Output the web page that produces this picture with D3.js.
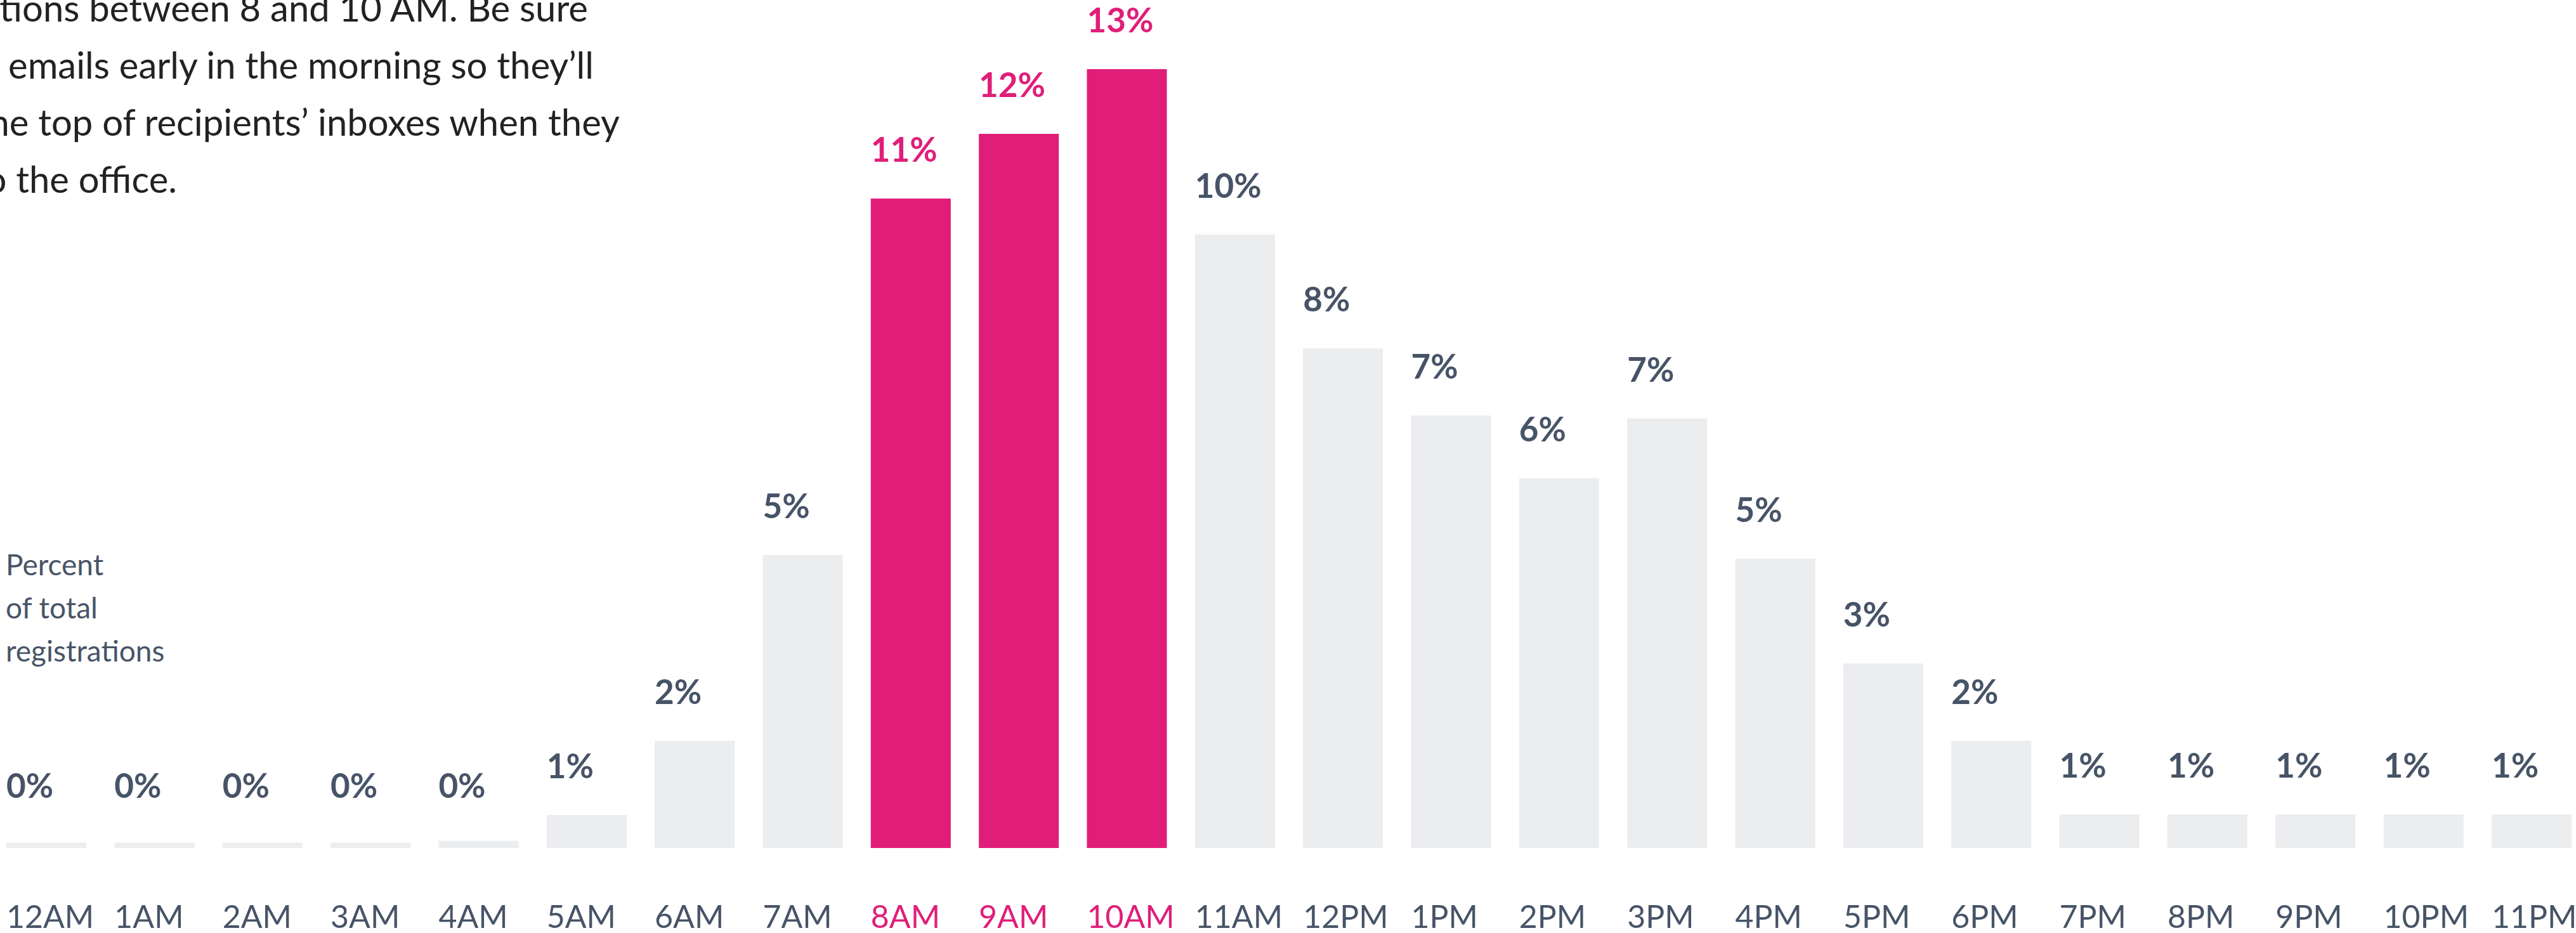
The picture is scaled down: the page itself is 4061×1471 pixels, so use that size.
<!DOCTYPE html>
<html>
<head>
<meta charset="utf-8">
<script src="https://cdn.jsdelivr.net/npm/d3@7"></script>
<style>
  html, body { margin: 0; padding: 0; background: #fff; overflow: hidden; }
  svg { display: block; font-family: Lato, "Open Sans", sans-serif; }
</style>
</head>
<body>
<svg width="4061" height="1471"></svg>
<script>
// hours of the day
var hours = ["12AM", "1AM", "2AM", "3AM", "4AM", "5AM", "6AM", "7AM", "8AM", "9AM", "10AM", "11AM",
             "12PM", "1PM", "2PM", "3PM", "4PM", "5PM", "6PM", "7PM", "8PM", "9PM", "10PM", "11PM"];
// percent of total registrations
var shares = [0.09, 0.09, 0.09, 0.09, 0.12, 0.55, 1.79, 4.89, 10.84, 11.92, 13.0, 10.24,
              8.34, 7.22, 6.17, 7.17, 4.83, 3.08, 1.79, 0.56, 0.56, 0.56, 0.56, 0.56];
// printed labels
var shareLabels = ["0%", "0%", "0%", "0%", "0%", "1%", "2%", "5%", "11%", "12%", "13%", "10%",
                   "8%", "7%", "6%", "7%", "5%", "3%", "2%", "1%", "1%", "1%", "1%", "1%"];
var peakHours = ["8AM", "9AM", "10AM"];
var noteLines = ["Most registrations between 8 and 10 AM. Be sure",
                 "to send emails early in the morning so they’ll",
                 "be at the top of recipients’ inboxes when they",
                 "get to the office."];
var noteEnds = [927, 936, 977, 279];
var unitLines = ["Percent", "of total", "registrations"];

var pink = "#e01e79", grey = "#ecedef", slate = "#475467";

var svg = d3.select("svg"),
    baseY = 1337,
    labelFloor = 0.22; // tiny bars still get their label lifted a bit

var x = d3.scaleBand()
    .domain(hours)
    .range([10, 4054])
    .paddingInner(0.26)
    .paddingOuter(0);

var y = d3.scaleLinear()
    .domain([0, 13])
    .range([baseY, 109]);

var data = hours.map(function(h, i) { return {hour: h, value: shares[i], label: shareLabels[i]}; });
function isPeak(d) { return peakHours.indexOf(d.hour) != -1; }

// bars
svg.append("g").selectAll("rect")
  .data(data)
  .enter().append("rect")
    .attr("x", function(d) { return x(d.hour); })
    .attr("y", function(d) { return y(d.value); })
    .attr("width", x.bandwidth())
    .attr("height", function(d) { return baseY - y(d.value); })
    .style("fill", function(d) { return isPeak(d) ? pink : grey; });

// value labels
svg.append("g").selectAll("text")
  .data(data)
  .enter().append("text")
    .attr("x", function(d) { return x(d.hour); })
    .attr("y", function(d) { return y(Math.max(d.value, labelFloor)) - 58; })
    .style("font-size", "53px")
    .style("font-weight", 700)
    .style("fill", function(d) { return isPeak(d) ? pink : slate; })
    .text(function(d) { return d.label; });

// hour axis
var axis = svg.append("g")
    .attr("transform", "translate(0," + baseY + ")")
    .call(d3.axisBottom(x).tickSize(0));
axis.select(".domain").remove();
axis.selectAll("text")
    .attr("x", -x.bandwidth() / 2)
    .attr("y", 126)
    .attr("dy", 0)
    .attr("text-anchor", "start")
    .style("font-family", "Lato, sans-serif")
    .style("font-size", "50px")
    .style("fill", function(d) { return peakHours.indexOf(d) != -1 ? pink : slate; });

// unit label
svg.append("g").selectAll("text")
  .data(unitLines)
  .enter().append("text")
    .attr("x", 9)
    .attr("y", function(d, i) { return 907 + i * 68; })
    .style("font-size", "46px")
    .style("fill", slate)
    .text(function(d) { return d; });

// annotation (runs off the left edge)
svg.append("g").selectAll("text")
  .data(noteLines)
  .enter().append("text")
    .attr("x", function(d, i) { return noteEnds[i]; })
    .attr("y", function(d, i) { return 34 + i * 90; })
    .attr("text-anchor", "end")
    .style("font-size", "58px")
    .style("fill", "#222")
    .text(function(d) { return d; });
</script>
</body>
</html>
